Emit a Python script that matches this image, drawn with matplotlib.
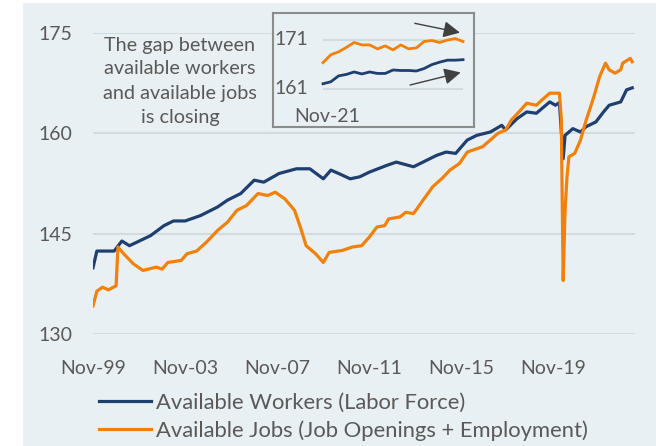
import matplotlib
matplotlib.use('Agg')
import matplotlib.pyplot as plt
import pandas as pd
from matplotlib.patches import Rectangle

# ---------------- data ----------------
workers_dates = ['1999-11', '2000-01', '2000-10', '2001-02', '2001-06', '2002-05', '2002-12',
                 '2003-05', '2003-11', '2004-07', '2005-04', '2005-09', '2006-04', '2006-11',
                 '2007-04', '2007-12', '2008-09', '2009-04', '2009-11', '2010-03', '2010-07',
                 '2011-01', '2011-06', '2011-11', '2012-08', '2013-01', '2013-10', '2014-03',
                 '2014-10', '2015-03', '2015-08', '2016-02', '2016-07', '2017-02', '2017-08',
                 '2017-10', '2018-04', '2018-09', '2019-02', '2019-09', '2019-12', '2020-02',
                 '2020-04', '2020-05', '2020-09', '2021-01', '2021-04', '2021-09', '2022-01',
                 '2022-04', '2022-10', '2023-01', '2023-04']
workers = [139.9, 142.4, 142.4, 143.9, 143.2, 144.7, 146.2,
           146.9, 146.9, 147.7, 149.0, 150.0, 151.0, 153.0,
           152.7, 154.0, 154.7, 154.7, 153.2, 154.5, 154.0,
           153.2, 153.5, 154.2, 155.2, 155.7, 155.0, 155.7,
           156.7, 157.2, 157.0, 159.0, 159.7, 160.2, 161.2,
           160.5, 162.2, 163.2, 163.0, 164.7, 164.2, 164.6,
           156.2, 159.7, 160.7, 160.2, 161.0, 161.7, 163.2,
           164.2, 164.7, 166.5, 166.8]

jobs_dates = ['1999-11', '2000-01', '2000-04', '2000-07', '2000-11', '2000-12', '2001-03',
              '2001-08', '2002-01', '2002-08', '2002-11', '2003-02', '2003-09', '2003-12',
              '2004-05', '2004-10', '2005-04', '2005-09', '2006-02', '2006-07', '2007-01',
              '2007-06', '2007-10', '2008-03', '2008-08', '2008-11', '2009-02', '2009-07',
              '2009-11', '2010-02', '2010-09', '2011-02', '2011-07', '2011-11', '2012-03',
              '2012-07', '2012-09', '2013-03', '2013-06', '2013-10', '2014-03', '2014-08',
              '2015-01', '2015-05', '2015-10', '2016-02', '2016-05', '2016-10', '2017-02',
              '2017-06', '2017-10', '2018-01', '2018-05', '2018-09', '2019-02', '2019-05',
              '2019-09', '2020-02', '2020-03', '2020-04', '2020-05', '2020-06', '2020-07',
              '2020-10', '2021-01', '2021-04', '2021-06', '2021-08', '2021-11', '2022-02',
              '2022-04', '2022-07', '2022-10', '2022-11', '2023-03', '2023-04']
jobs = [134.2, 136.4, 137.0, 136.6, 137.2, 143.0, 142.0,
        140.5, 139.5, 140.0, 139.7, 140.7, 141.0, 142.0,
        142.4, 143.7, 145.5, 146.7, 148.5, 149.2, 151.0,
        150.7, 151.2, 150.2, 148.5, 146.0, 143.2, 142.0,
        140.7, 142.2, 142.5, 143.0, 143.2, 144.5, 146.0,
        146.2, 147.2, 147.5, 148.2, 148.0, 150.0, 152.0,
        153.3, 154.5, 155.5, 157.2, 157.5, 158.0, 159.0,
        160.0, 160.5, 162.0, 163.2, 164.5, 164.2, 165.0,
        166.0, 166.0, 162.4, 138.0, 148.5, 153.5, 156.5,
        157.0, 159.0, 162.0, 163.7, 165.5, 168.5, 170.5,
        169.5, 169.0, 169.5, 170.5, 171.2, 170.7]

inset_months = ['2021-11', '2021-12', '2022-01', '2022-02', '2022-03', '2022-04', '2022-05',
                '2022-06', '2022-07', '2022-08', '2022-09', '2022-10', '2022-11', '2022-12',
                '2023-01', '2023-02', '2023-03', '2023-04', '2023-05']
inset_workers = [162.0, 162.4, 163.6, 163.9, 164.4, 164.0, 164.4, 164.1, 164.1, 164.8,
                 164.7, 164.7, 164.6, 165.1, 165.9, 166.4, 166.8, 166.8, 166.9]
inset_jobs = [166.3, 167.9, 168.5, 169.4, 170.4, 169.9, 169.9, 169.1, 169.7, 168.9,
              169.9, 169.1, 169.3, 170.6, 170.8, 170.4, 170.9, 171.2, 170.6]
inset_ticks = [161, 171]
inset_xlabel = 'Nov-21'

y_ticks = [130, 145, 160, 175]
x_tick_dates = ['1999-11', '2003-11', '2007-11', '2011-11', '2015-11', '2019-11']
x_tick_labels = ['Nov-99', 'Nov-03', 'Nov-07', 'Nov-11', 'Nov-15', 'Nov-19']

series_names = ['Available Workers (Labor Force)', 'Available Jobs (Job Openings + Employment)']
note = 'The gap between\navailable workers\nand available jobs\nis closing'

# ---------------- style ----------------
plt.rcParams['font.family'] = ['Lato', 'DejaVu Sans']
W, H = 656, 446
BG = '#E8F0F3'
GRID = '#D3DBDF'
TXT = '#595959'
BLUE = '#1F3F6E'
ORANGE = '#F28009'
FS = 14

fig = plt.figure(figsize=(W / 100, H / 100), dpi=100)
fig.patch.set_facecolor('white')
fig.patches.append(Rectangle((23 / W, 0), (W - 23) / W, (H - 3) / H, transform=fig.transFigure,
                             facecolor=BG, edgecolor='none', zorder=-10))


def fx(px):
    return px / W


def fy(py):
    return 1 - py / H


ax = fig.add_axes([fx(93), fy(334), 542 / W, 301 / H])
ax.set_facecolor('none')
wd = pd.to_datetime(workers_dates)
jd = pd.to_datetime(jobs_dates)
l1, = ax.plot(wd, workers, color=BLUE, lw=2.3, solid_joinstyle='round', zorder=3)
l2, = ax.plot(jd, jobs, color=ORANGE, lw=2.3, solid_joinstyle='round', zorder=4)
ax.set_ylim(130, 175)
ax.set_xlim(pd.Timestamp('1999-11-01'), pd.Timestamp('2023-05-15'))
ax.set_yticks(y_ticks)
ax.set_xticks(pd.to_datetime(x_tick_dates))
ax.set_xticklabels(x_tick_labels)
ax.tick_params(length=0, labelsize=FS, colors=TXT)
ax.tick_params(axis='y', pad=15)
ax.tick_params(axis='x', pad=18.5)
ax.grid(axis='y', color=GRID, lw=1.5)
ax.set_axisbelow(True)
for s in ax.spines.values():
    s.set_visible(False)

# note text
fig.text(fx(180), fy(81), note, ha='center', va='center', fontsize=14.3, color=TXT,
         linespacing=1.5)

# legend
fig.legend(handles=[l1, l2], labels=series_names, loc='upper left',
           bbox_to_anchor=(fx(99), fy(393)), frameon=False, fontsize=15.8, labelcolor=TXT,
           handlelength=2.37, handletextpad=0.23, labelspacing=0.32, borderaxespad=0,
           borderpad=0)

# inset
axi = fig.add_axes([fx(273), fy(127), 201 / W, 114 / H])
axi.set_facecolor(BG)
for s in axi.spines.values():
    s.set_color('#8C8C8C')
    s.set_linewidth(1.5)
axi.set_xticks([])
axi.set_yticks([])
n = len(inset_months)
xi = list(range(n))
axi.set_xlim(-6.43, 19.41)
axi.set_ylim(153.2, 176.4)
axi.hlines(inset_ticks, 0, n - 1, color=GRID, lw=1.5, zorder=1)
axi.plot(xi, inset_jobs, color=ORANGE, lw=2.0, zorder=2)
axi.plot(xi, inset_workers, color=BLUE, lw=2.0, zorder=2)
for t in inset_ticks:
    axi.text(-4.1, t, str(t), ha='center', va='center', fontsize=FS, color=TXT)
axi.text(0.5, 155.4, inset_xlabel, ha='center', va='center', fontsize=FS, color=TXT)
arrow = dict(arrowstyle='-|>,head_length=1.0,head_width=0.5', color='#404040', lw=1,
             mutation_scale=10, shrinkA=0, shrinkB=0)
axi.annotate('', xy=(17.6, 172.4), xytext=(11.8, 174.3), arrowprops=arrow)
axi.annotate('', xy=(17.7, 164.3), xytext=(11.2, 161.75), arrowprops=arrow)

fig.savefig('out.png', dpi=100, facecolor=fig.get_facecolor())
